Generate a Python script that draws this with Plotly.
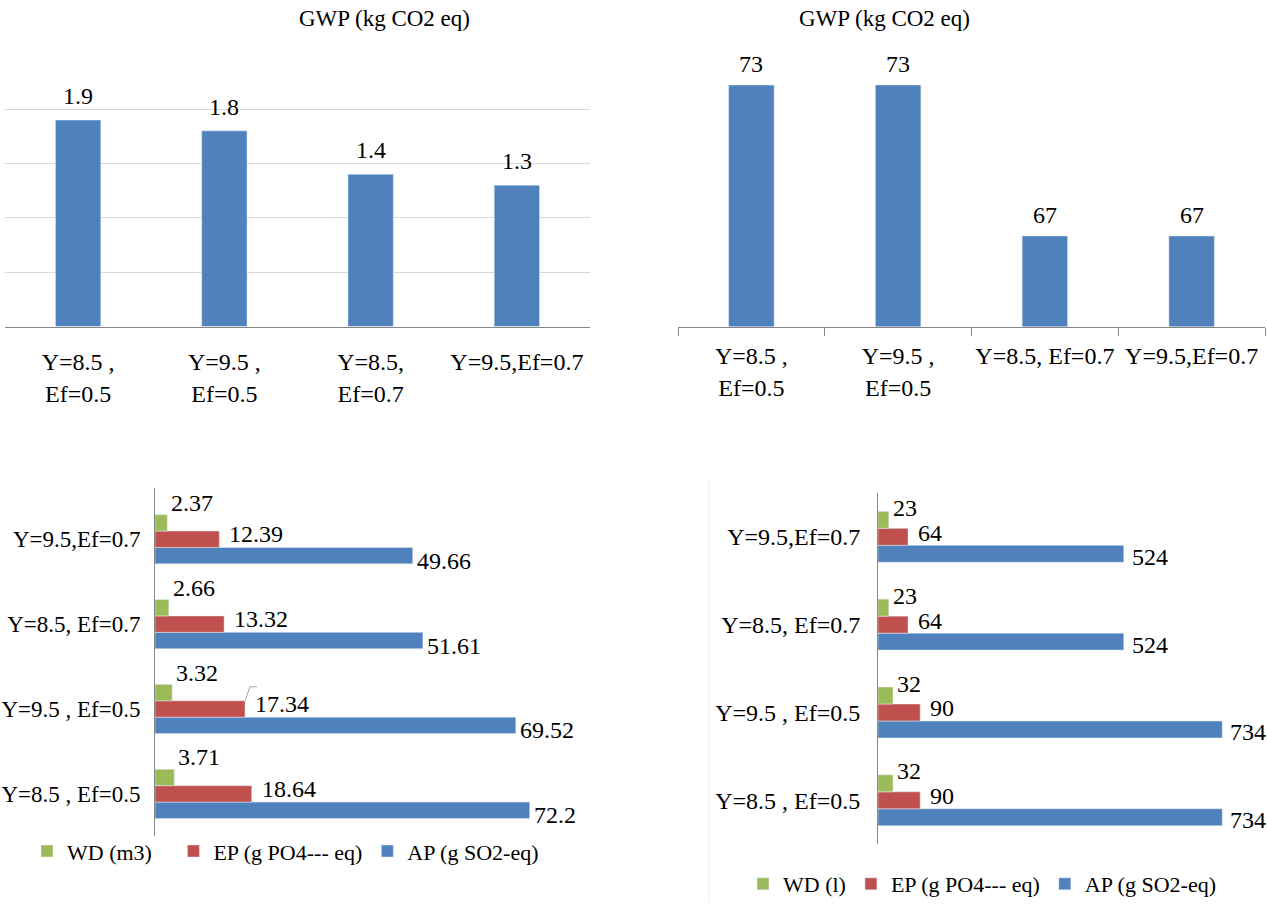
import plotly.graph_objects as go

# ---- data -------------------------------------------------------------
gwp_left_cats = ["Y=8.5 ,<br>Ef=0.5", "Y=9.5 ,<br>Ef=0.5", "Y=8.5,<br>Ef=0.7", "Y=9.5,Ef=0.7"]
gwp_left_vals = [1.9, 1.8, 1.4, 1.3]

gwp_right_cats = ["Y=8.5 ,<br>Ef=0.5", "Y=9.5 ,<br>Ef=0.5", "Y=8.5, Ef=0.7", "Y=9.5,Ef=0.7"]
gwp_right_vals = [73, 73, 67, 67]

scen_cats = ["Y=8.5 , Ef=0.5", "Y=9.5 , Ef=0.5", "Y=8.5, Ef=0.7", "Y=9.5,Ef=0.7"]

left_wd = [3.71, 3.32, 2.66, 2.37]
left_ep = [18.64, 17.34, 13.32, 12.39]
left_ap = [72.2, 69.52, 51.61, 49.66]

right_wd = [32, 32, 23, 23]
right_ep = [90, 90, 64, 64]
right_ap = [734, 734, 524, 524]

left_names = ["WD (m3)", "EP (g PO4--- eq)", "AP (g SO2-eq)"]
right_names = ["WD (l)", "EP (g PO4--- eq)", "AP (g SO2-eq)"]

# ---- style ------------------------------------------------------------
FONT = "Liberation Serif"
BLUE, RED, GREEN = "#4F81BD", "#C0504D", "#9BBB59"
AXIS = "#868686"
GRID = "#D9D9D9"
W, H = 1267, 905
BARGAP = 0.42
NBSP = "\u00a0"

def px_x(p):
    return p / W

def px_y(p):
    return 1 - p / H

fig = go.Figure()

# top row: GWP columns
fig.add_trace(go.Bar(x=gwp_left_cats, y=gwp_left_vals, marker_color=BLUE, width=0.31,
                     xaxis="x", yaxis="y", showlegend=False))
fig.add_trace(go.Bar(x=gwp_right_cats, y=gwp_right_vals, marker_color=BLUE, width=0.31,
                     xaxis="x2", yaxis="y2", showlegend=False))

annotations = []
for cats, vals, xr, yr, ys in [(gwp_left_cats, gwp_left_vals, "x", "y", 9),
                               (gwp_right_cats, gwp_right_vals, "x2", "y2", 6)]:
    for c, v in zip(cats, vals):
        annotations.append(dict(x=c, y=v, xref=xr, yref=yr, text=f"{v:g}", showarrow=False,
                                yanchor="bottom", yshift=ys,
                                font=dict(family=FONT, size=24, color="black")))

shapes = []

# bottom row: grouped horizontal bars (AP drawn first so WD sits on top of each group)
def add_group(wd, ep, ap, names, xr, yr, legend, offsets, pads):
    series = [(ap, names[2], BLUE, pads[2]), (ep, names[1], RED, pads[1]),
              (wd, names[0], GREEN, pads[0])]
    bw = (1 - BARGAP) / 3
    for k, (vals, name, col, pad) in enumerate(series):
        fig.add_trace(go.Bar(y=scen_cats, x=vals, orientation="h", name=name + NBSP * pad,
                             marker_color=col, xaxis=xr, yaxis=yr, legend=legend))
        xs, ys = offsets[k]
        for i, v in enumerate(vals):
            annotations.append(dict(x=v, y=i + (k - 1) * bw, xref=xr, yref=yr, text=f"{v:g}",
                                    showarrow=False, xanchor="left", yanchor="middle",
                                    xshift=xs, yshift=ys,
                                    font=dict(family=FONT, size=24, color="black")))
    return bw

bw = add_group(left_wd, left_ep, left_ap, left_names, "x3", "y3", "legend",
               [(2, -5), (8, 5), (2, 20)], [3, 0, 0])
add_group(right_wd, right_ep, right_ap, right_names, "x4", "y4", "legend2",
          [(6, -3), (8, 4), (2, 12)], [0, 0, 0])

# small leader line joining the 17.34 label to its bar
shapes.append(dict(type="path", xref="x3", yref="y3", xsizemode="pixel", ysizemode="pixel",
                   xanchor=left_ep[1], yanchor=1 + bw / 2,
                   path="M0,0 L5,14 L12,14", line=dict(color="#A6A6A6", width=1)))

# faint frame edge of the lower-right chart
shapes.append(dict(type="line", xref="paper", yref="paper",
                   x0=px_x(709), x1=px_x(709), y0=0, y1=px_y(480),
                   line=dict(color="#F0F0F0", width=1)))

# titles
for xc in (297, 972):
    annotations.append(dict(x=px_x(xc), y=px_y(19), xref="paper", yref="paper",
                            text="GWP (kg CO2 eq)", showarrow=False, yanchor="middle",
                            font=dict(family=FONT, size=23, color="black")))

tickfont = dict(family=FONT, size=24, color="black")
hbar_tickfont = dict(family=FONT, size=23, color="black")
legfont = dict(family=FONT, size=22, color="black")

fig.update_layout(
    width=W, height=H,
    margin=dict(l=0, r=0, t=0, b=0),
    paper_bgcolor="white", plot_bgcolor="white",
    barmode="group", bargap=BARGAP, bargroupgap=0,
    font=dict(family=FONT, color="black"),
    xaxis=dict(domain=[px_x(5), px_x(590)], showline=True, linecolor=AXIS, linewidth=1,
               ticks="", tickfont=tickfont, ticklabelstandoff=14, tickangle=0,
               automargin=False, anchor="y"),
    yaxis=dict(domain=[px_y(328), px_y(55)], range=[0, 2.5], dtick=0.5, showgrid=True,
               gridcolor=GRID, showticklabels=False, zeroline=False, automargin=False, anchor="x"),
    xaxis2=dict(domain=[px_x(678), px_x(1265)], showline=True, linecolor=AXIS, linewidth=1,
                ticks="outside", tickson="boundaries", ticklen=8, tickcolor=AXIS,
                tickfont=tickfont, ticklabelstandoff=8, tickangle=0, automargin=False, anchor="y2"),
    yaxis2=dict(domain=[px_y(328), px_y(55)], range=[63.4, 74.2], visible=False,
                automargin=False, anchor="x2"),
    xaxis3=dict(domain=[px_x(155), px_x(600)], range=[0, 445 / 5.19], visible=False,
                automargin=False, anchor="y3"),
    yaxis3=dict(domain=[px_y(840), px_y(490)], showline=True, linecolor=AXIS, linewidth=1,
                ticks="", tickfont=hbar_tickfont, ticklabelstandoff=9, automargin=False,
                anchor="x3"),
    xaxis4=dict(domain=[px_x(878), 1], range=[0, 389 / 0.469], visible=False,
                automargin=False, anchor="y4"),
    yaxis4=dict(domain=[px_y(848), px_y(495)], showline=True, linecolor=AXIS, linewidth=1,
                ticks="", tickfont=tickfont, ticklabelstandoff=12, automargin=False, anchor="x4"),
    legend=dict(orientation="h", x=px_x(27), y=px_y(855), xanchor="left", yanchor="middle",
                traceorder="reversed", font=legfont, bgcolor="rgba(0,0,0,0)"),
    legend2=dict(orientation="h", x=px_x(743), y=px_y(888), xanchor="left", yanchor="middle",
                 traceorder="reversed", font=legfont, bgcolor="rgba(0,0,0,0)"),
    annotations=annotations,
    shapes=shapes,
)

fig.write_html("out.html")
